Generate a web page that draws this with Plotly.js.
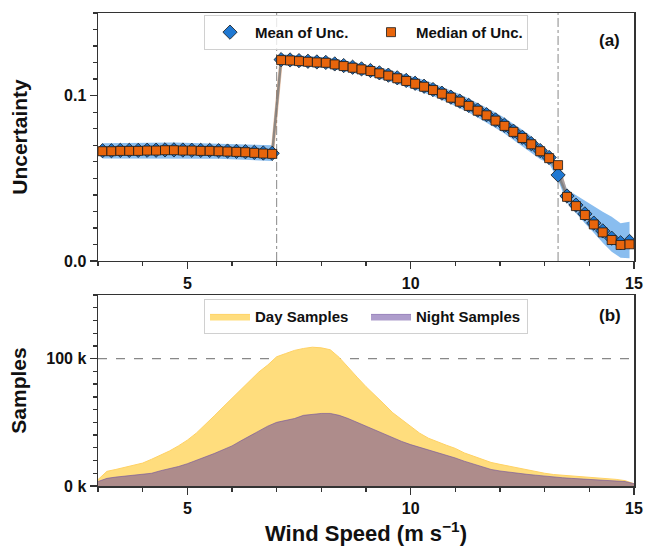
<!DOCTYPE html>
<html>
<head>
<meta charset="utf-8">
<script src="https://cdn.plot.ly/plotly-3.0.1.min.js"></script>
<style>html,body{margin:0;padding:0;background:#fff;}#chart{width:646px;height:551px;}</style>
</head>
<body>
<div id="chart"></div>
<script>
// ---- Panel (a): uncertainty vs wind speed ----
const windBins = [3.1,3.3,3.5,3.7,3.9,4.1,4.3,4.5,4.7,4.9,5.1,5.3,5.5,5.7,5.9,6.1,6.3,6.5,6.7,6.9,
  7.1,7.3,7.5,7.7,7.9,8.1,8.3,8.5,8.7,8.9,9.1,9.3,9.5,9.7,9.9,10.1,10.3,10.5,10.7,10.9,
  11.1,11.3,11.5,11.7,11.9,12.1,12.3,12.5,12.7,12.9,13.1,13.3,13.5,13.7,13.9,14.1,14.3,14.5,14.7,14.9];
const medianUnc = [0.0664,0.0664,0.0666,0.0666,0.0666,0.0668,0.0668,0.0670,0.0670,0.0668,0.0668,0.0666,0.0666,0.0664,0.0662,0.0660,0.0658,0.0654,0.0650,0.0648,
  0.1215,0.1213,0.1209,0.1205,0.1201,0.1199,0.1189,0.1179,0.1169,0.1159,0.1149,0.1135,0.1121,0.1105,0.1089,0.1072,0.1054,0.1034,0.1012,0.0988,
  0.0964,0.0938,0.0909,0.0881,0.0849,0.0817,0.0781,0.0744,0.0706,0.0664,0.0622,0.0580,0.0388,0.0332,0.0278,0.0221,0.0173,0.0127,0.0097,0.0101];
const meanUnc = [0.0667,0.0667,0.0669,0.0669,0.0669,0.0670,0.0670,0.0672,0.0672,0.0671,0.0670,0.0669,0.0669,0.0667,0.0665,0.0663,0.0661,0.0657,0.0653,0.0651,
  0.1218,0.1216,0.1212,0.1208,0.1204,0.1201,0.1192,0.1182,0.1172,0.1162,0.1152,0.1138,0.1124,0.1108,0.1092,0.1075,0.1057,0.1037,0.1015,0.0991,
  0.0967,0.0941,0.0913,0.0885,0.0853,0.0821,0.0785,0.0748,0.0710,0.0668,0.0626,0.0520,0.0393,0.0338,0.0285,0.0229,0.0182,0.0138,0.0110,0.0118];
const bandUpper = [0.0712,0.0713,0.0714,0.0714,0.0714,0.0715,0.0715,0.0716,0.0716,0.0715,0.0714,0.0713,0.0712,0.0711,0.0709,0.0707,0.0705,0.0703,0.0701,0.0700,
  0.1250,0.1248,0.1244,0.1240,0.1236,0.1233,0.1224,0.1214,0.1205,0.1195,0.1185,0.1172,0.1158,0.1143,0.1127,0.1111,0.1094,0.1075,0.1054,0.1031,
  0.1008,0.0983,0.0956,0.0929,0.0898,0.0866,0.0831,0.0794,0.0755,0.0700,0.0650,0.0590,0.0433,0.0398,0.0364,0.0332,0.0298,0.0268,0.0228,0.0237];
const bandLower = [0.0620,0.0620,0.0621,0.0621,0.0621,0.0622,0.0622,0.0623,0.0623,0.0622,0.0621,0.0620,0.0619,0.0618,0.0616,0.0614,0.0612,0.0609,0.0607,0.0605,
  0.1185,0.1183,0.1179,0.1175,0.1171,0.1168,0.1158,0.1148,0.1138,0.1128,0.1117,0.1103,0.1089,0.1072,0.1056,0.1038,0.1019,0.0998,0.0975,0.0950,
  0.0925,0.0898,0.0868,0.0838,0.0805,0.0771,0.0733,0.0694,0.0654,0.0615,0.0590,0.0489,0.0352,0.0288,0.0228,0.0171,0.0110,0.0056,0.0020,0.0016];
const jumpIndex = 20; // band is drawn in two pieces: below and above 7 m/s

// ---- Panel (b): sample counts (thousands) ----
const sampleWind = [3.0,3.2,3.4,3.6,3.8,4.0,4.2,4.4,4.6,4.8,5.0,5.2,5.4,5.6,5.8,6.0,6.2,6.4,6.6,6.8,
  7.0,7.2,7.4,7.6,7.8,8.0,8.2,8.4,8.6,8.8,9.0,9.2,9.4,9.6,9.8,10.0,10.2,10.4,10.6,10.8,
  11.0,11.2,11.4,11.6,11.8,12.0,12.2,12.4,12.6,12.8,13.0,13.2,13.4,13.6,13.8,14.0,14.2,14.4,14.6,14.8,15.0];
const daySamplesK = [5,11.5,13,14.5,16.5,18,21,24,27.5,31.5,36,41.5,48,55,62,69,76,83,89.5,95,
  101.5,104,106.5,108,109,108.5,107,101,93,85.5,78,71.5,64.5,57.5,52,47,41.5,37.5,34.5,32,
  29.5,26,23.5,21,18.5,17,15.5,14,12.5,11,10,9,8.5,7.8,7.2,6.8,6.3,5.8,5.2,4.2,1.8];
const nightSamplesK = [3.5,6,7,7.7,8.5,9.3,10,12,13.5,15.3,17.5,20,22.5,25.5,28.5,31.5,35.5,39.5,43.5,47,
  50,51.5,53,55.5,56.5,57,57,55.5,53,50,47,44,41,37.5,35,32.5,30.5,28.5,26.5,24.3,
  22,19.5,17.3,15,13,11.8,10.8,10,9.2,8.5,7.7,7,6.5,6,5.6,5.2,4.8,4.4,4,3.5,1.8];

const thresholdsWind = [7.0, 13.3];
const sampleRefLineK = 100;
const uncTickVals = [0, 0.1], uncTickText = ['0.0', '0.1'];
const sampTickVals = [0, 100], sampTickText = ['0 k', '100 k'];

const FONT = 'Liberation Sans, Arial, sans-serif';
const BLUE = '#1f78d2', ORANGE = '#e8650c';

const seg = (arr, a, b) => arr.slice(a, b);
const traces = [];
[[0, jumpIndex], [jumpIndex, windBins.length]].forEach(([a, b]) => {
  traces.push({x: seg(windBins, a, b), y: seg(bandLower, a, b), type: 'scatter', mode: 'lines',
    line: {width: 0}, showlegend: false, hoverinfo: 'skip', xaxis: 'x', yaxis: 'y'});
  traces.push({x: seg(windBins, a, b), y: seg(bandUpper, a, b), type: 'scatter', mode: 'lines',
    line: {width: 0}, fill: 'tonexty', fillcolor: 'rgba(40,135,225,0.55)', showlegend: false,
    hoverinfo: 'skip', xaxis: 'x', yaxis: 'y'});
});
traces.push({x: windBins, y: medianUnc, type: 'scatter', mode: 'lines',
  line: {color: 'rgba(210,110,40,0.4)', width: 3.5}, showlegend: false, xaxis: 'x', yaxis: 'y'});
traces.push({x: windBins, y: meanUnc, type: 'scatter', mode: 'lines',
  line: {color: 'rgba(125,125,125,0.85)', width: 2.5}, showlegend: false, xaxis: 'x', yaxis: 'y'});
traces.push({x: windBins, y: meanUnc, type: 'scatter', mode: 'markers', name: 'Mean of Unc.',
  marker: {symbol: 'diamond', size: 11, color: BLUE, line: {color: '#1a1a1a', width: 0.8}},
  legend: 'legend', xaxis: 'x', yaxis: 'y'});
traces.push({x: windBins, y: medianUnc, type: 'scatter', mode: 'markers', name: 'Median of Unc.',
  marker: {symbol: 'square', size: 9, color: ORANGE, line: {color: '#1a1a1a', width: 0.8}},
  legend: 'legend', xaxis: 'x', yaxis: 'y'});

traces.push({x: sampleWind, y: daySamplesK, type: 'scatter', mode: 'lines', name: 'Day Samples',
  fill: 'tozeroy', fillcolor: 'rgb(255,221,125)', line: {color: 'rgb(255,210,100)', width: 1},
  legend: 'legend2', xaxis: 'x2', yaxis: 'y2'});
traces.push({x: sampleWind, y: nightSamplesK, type: 'scatter', mode: 'lines', name: 'Night Samples',
  fill: 'tozeroy', fillcolor: 'rgba(94,60,153,0.5)', line: {color: 'rgba(110,80,160,0.6)', width: 1},
  legend: 'legend2', xaxis: 'x2', yaxis: 'y2'});

const tickFont = {family: FONT, size: 16, color: '#111', weight: 'bold'};
const titleFont = {family: FONT, size: 21, color: '#111', weight: 'bold'};
const axisCommon = {showline: true, linecolor: '#333', linewidth: 1.5, mirror: true,
  ticks: 'outside', ticklen: 7, tickwidth: 1.3, tickcolor: '#333', showgrid: false, zeroline: false,
  tickfont: tickFont};

const legendCommon = {orientation: 'h', xanchor: 'center', x: 0.5, yanchor: 'top', traceorder: 'normal',
  bgcolor: 'rgba(255,255,255,0.8)', bordercolor: '#d0d0d0', borderwidth: 1, itemwidth: 40,
  font: {family: FONT, size: 15, color: '#111', weight: 'bold'}, entrywidth: 106, entrywidthmode: 'pixels'};

const layout = {
  width: 646, height: 551,
  margin: {l: 98, r: 12, t: 13, b: 65},
  paper_bgcolor: '#fff', plot_bgcolor: '#fff',
  showlegend: true,
  legend: Object.assign({}, legendCommon, {y: 0.996}),
  legend2: Object.assign({}, legendCommon, {y: 0.395}),
  xaxis: Object.assign({}, axisCommon, {domain: [0, 1], anchor: 'y', range: [3, 15],
    tickvals: [5, 10, 15], minor: {dtick: 1, tick0: 3, ticklen: 4, ticks: 'outside', tickcolor: '#333'}}),
  yaxis: Object.assign({}, axisCommon, {domain: [0.4757, 1], anchor: 'x', range: [0, 0.15],
    tickvals: uncTickVals, ticktext: uncTickText,
    minor: {dtick: 0.01, tick0: 0, ticklen: 4, ticks: 'outside', tickcolor: '#333'},
    title: {text: 'Uncertainty', font: titleFont, standoff: 30}}),
  xaxis2: Object.assign({}, axisCommon, {domain: [0, 1], anchor: 'y2', range: [3, 15],
    tickvals: [5, 10, 15], minor: {dtick: 1, tick0: 3, ticklen: 4, ticks: 'outside', tickcolor: '#333'},
    title: {text: 'Wind Speed (m s<sup>\u22121</sup>)', font: {family: FONT, size: 22, color: '#111', weight: 'bold'}, standoff: 10}}),
  yaxis2: Object.assign({}, axisCommon, {domain: [0, 0.4038], anchor: 'x2', range: [0, 150],
    tickvals: sampTickVals, ticktext: sampTickText,
    minor: {dtick: 10, tick0: 0, ticklen: 4, ticks: 'outside', tickcolor: '#333'},
    title: {text: 'Samples', font: titleFont, standoff: 14}}),
  shapes: [
    ...thresholdsWind.map(v => ({type: 'line', xref: 'x', yref: 'y domain', x0: v, x1: v, y0: 0, y1: 1,
      line: {color: '#888', width: 1, dash: 'dashdot'}, layer: 'below'})),
    {type: 'line', xref: 'x2 domain', yref: 'y2', x0: 0, x1: 1, y0: sampleRefLineK, y1: sampleRefLineK,
      line: {color: '#888', width: 1.2, dash: 'dash'}, layer: 'below'}
  ],
  annotations: [
    {text: '(a)', xref: 'x domain', yref: 'y domain', x: 0.955, y: 0.891, xanchor: 'center', yanchor: 'middle',
      showarrow: false, font: {family: FONT, size: 17, color: '#111', weight: 'bold'}},
    {text: '(b)', xref: 'x2 domain', yref: 'y2 domain', x: 0.955, y: 0.895, xanchor: 'center', yanchor: 'middle',
      showarrow: false, font: {family: FONT, size: 17, color: '#111', weight: 'bold'}}
  ]
};

Plotly.newPlot('chart', traces, layout, {displayModeBar: false, staticPlot: true});
</script>
</body>
</html>
